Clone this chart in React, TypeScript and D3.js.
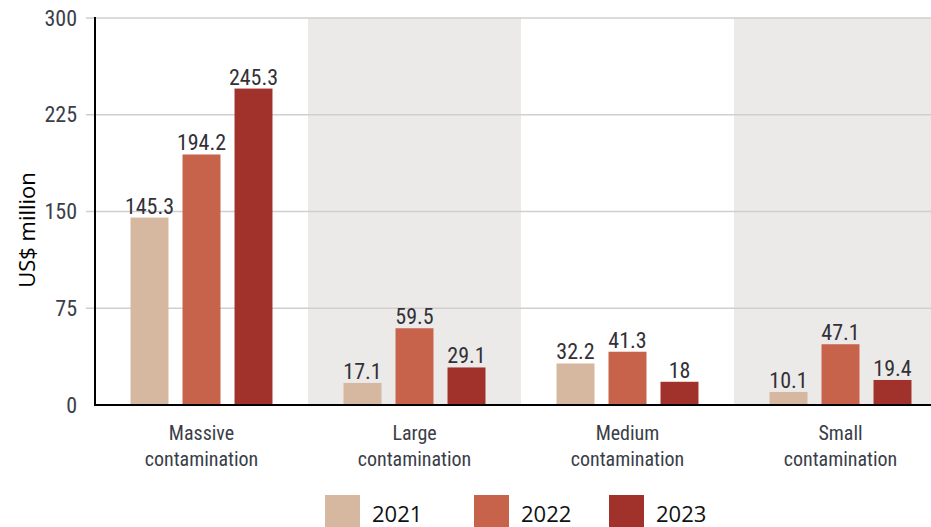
import React from "react";
import * as d3 from "d3";

const categories = ["Massive contamination", "Large contamination", "Medium contamination", "Small contamination"];
const years = ["2021", "2022", "2023"];
const values2021 = [145.3, 17.1, 32.2, 10.1];
const values2022 = [194.2, 59.5, 41.3, 47.1];
const values2023 = [245.3, 29.1, 18, 19.4];
const yTicks = [0, 75, 150, 225, 300];
const colors = ["#d6b7a0", "#c8634b", "#a0312b"];

const W = 931;
const H = 527;
const FONT = "'Liberation Sans Narrow', 'Roboto Condensed', 'Open Sans', sans-serif";

export default function App() {
  const series = [values2021, values2022, values2023];
  const x0 = d3.scaleBand<string>().domain(categories).range([95, 947]).padding(0);
  const bw = x0.bandwidth();
  const x1 = d3
    .scaleBand<string>()
    .domain(years)
    .range([bw / 2 - 78, bw / 2 + 78])
    .paddingInner(0.27)
    .paddingOuter(0.135);
  const y = d3.scaleLinear().domain([0, 300]).range([405, 18]);

  return (
    <svg width={W} height={H} style={{ position: "absolute", left: 0, top: 0 }}>
      <rect x={0} y={0} width={W} height={H} fill="#fff" />
      {categories.map((c, i) =>
        i % 2 === 1 ? (
          <rect key={c} x={x0(c)!} y={y(300)} width={bw} height={y(0) - y(300)} fill="#ebeae8" />
        ) : null
      )}
      {yTicks.filter((t) => t > 0).map((t) => (
        <line key={t} x1={86} x2={W} y1={y(t)} y2={y(t)} stroke="#cfcfcf" strokeWidth={1.5} />
      ))}
      {yTicks.map((t) => (
        <text key={t} x={77} y={y(t)} dy="0.35em" textAnchor="end" fontFamily={FONT} fontSize={22} fill="#3a3e48">
          {t}
        </text>
      ))}
      {categories.map((c, i) => (
        <g key={c} transform={`translate(${x0(c)},0)`}>
          {years.map((yr, j) => {
            const v = series[j][i];
            return (
              <g key={yr}>
                <rect x={x1(yr)!} y={y(v)} width={x1.bandwidth()} height={y(0) - y(v)} fill={colors[j]} />
                <text
                  x={x1(yr)! + x1.bandwidth() / 2}
                  y={y(v) - 4}
                  textAnchor="middle"
                  fontFamily={FONT}
                  fontSize={22}
                  fill="#333038"
                >
                  {v}
                </text>
              </g>
            );
          })}
          <text x={bw / 2} y={440} textAnchor="middle" fontFamily={FONT} fontSize={20} fill="#3a3e48">
            {c.split(" ")[0]}
          </text>
          <text x={bw / 2} y={466} textAnchor="middle" fontFamily={FONT} fontSize={20} fill="#3a3e48">
            {c.split(" ")[1]}
          </text>
        </g>
      ))}
      <line x1={95} x2={95} y1={17} y2={406} stroke="#000" strokeWidth={2} />
      <line x1={94} x2={W} y1={405} y2={405} stroke="#000" strokeWidth={2} />
      <text
        transform={`translate(35,230) rotate(-90)`}
        textAnchor="middle"
        fontFamily="'Open Sans', sans-serif"
        fontSize={22}
        fill="#000"
      >
        US$ million
      </text>
      {years.map((yr, j) => {
        const lx = [325, 474, 609][j];
        return (
          <g key={yr}>
            <rect x={lx} y={495} width={35} height={32} fill={colors[j]} />
            <text x={lx + 47} y={522} fontFamily="'Open Sans', sans-serif" fontSize={22} fill="#111">
              {yr}
            </text>
          </g>
        );
      })}
    </svg>
  );
}
